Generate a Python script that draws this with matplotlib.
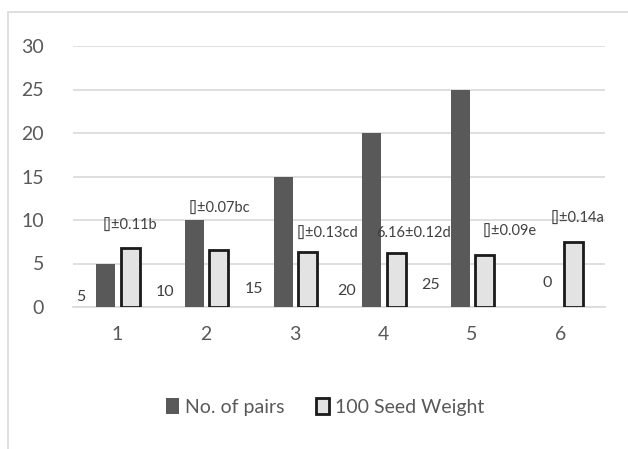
import matplotlib
matplotlib.use("Agg")
import matplotlib.pyplot as plt
from matplotlib.patches import Rectangle

plt.rcParams['font.family'] = ['Lato', 'DejaVu Sans']

# Data
categories = [1, 2, 3, 4, 5, 6]
no_of_pairs = [5, 10, 15, 20, 25, 0]
seed_weight = [6.78, 6.55, 6.36, 6.16, 5.98, 7.5]
pair_labels = ["5", "10", "15", "20", "25", "0"]
weight_labels = ["[]±0.11b", "[]±0.07bc", "[]±0.13cd", "6.16±0.12d", "[]±0.09e", "[]±0.14a"]
y_ticks = [0, 5, 10, 15, 20, 25, 30]

# Manually placed label positions (data coordinates)
pair_label_pos = [(0.59, 1.15), (1.54, 1.72), (2.54, 2.07), (3.58, 1.84), (4.53, 2.53), (5.85, 2.76)]
weight_label_pos = [(1.143, 9.31), (2.147, 11.26), (3.365, 8.39), (4.346, 8.51), (5.428, 8.62), (6.195, 10.11)]

text_color = '#595959'
grid_color = '#d9d9d9'

fig = plt.figure(figsize=(6.28, 4.49), dpi=100)
fig.patches.append(Rectangle((8 / 628, -0.1), 1.2, 1 - 12 / 449 + 0.1,
                             transform=fig.transFigure, fill=False,
                             edgecolor=grid_color, linewidth=1.2))

ax = fig.add_axes([73 / 628, 1 - 307 / 449, (605 - 73) / 628, (307 - 46) / 449])

x = list(categories)
dark_x = [c - 0.13 for c in x]
light_x = [c + 0.145 for c in x]

ax.bar(dark_x, no_of_pairs, width=0.215, color='#595959', edgecolor='none',
       label='No. of pairs', zorder=3)
ax.bar(light_x, seed_weight, width=0.215, color='#e3e3e3', edgecolor='#1a1a1a',
       linewidth=2, label='100 Seed Weight', zorder=3)

for txt, (px, py) in zip(pair_labels, pair_label_pos):
    ax.text(px, py, txt, ha='center', va='center', fontsize=11.5, color='#404040')
for txt, (px, py) in zip(weight_labels, weight_label_pos):
    ax.text(px, py, txt, ha='center', va='center', fontsize=10.5, color='#404040')

ax.set_xlim(0.5, 6.5)
ax.set_ylim(0, 30)
ax.set_yticks(y_ticks)
ax.set_xticks(categories)
ax.set_xticklabels([str(c) for c in categories])
ax.yaxis.grid(True, color=grid_color, linewidth=1.2, zorder=0)
ax.set_axisbelow(True)
for s in ax.spines.values():
    s.set_visible(False)
ax.spines['bottom'].set_visible(True)
ax.spines['bottom'].set_color(grid_color)
ax.spines['bottom'].set_linewidth(1.2)
ax.tick_params(axis='both', length=0, labelsize=14, colors=text_color)
ax.tick_params(axis='y', pad=21)
ax.tick_params(axis='x', pad=14)

leg = ax.legend(loc='center', bbox_to_anchor=(325 / 628, 1 - 407 / 449),
                bbox_transform=fig.transFigure, ncol=2, frameon=False,
                fontsize=14, handlelength=0.7, handleheight=0.9,
                handletextpad=0.3, columnspacing=1.6)
for t in leg.get_texts():
    t.set_color(text_color)

fig.savefig('out.png', dpi=100)
